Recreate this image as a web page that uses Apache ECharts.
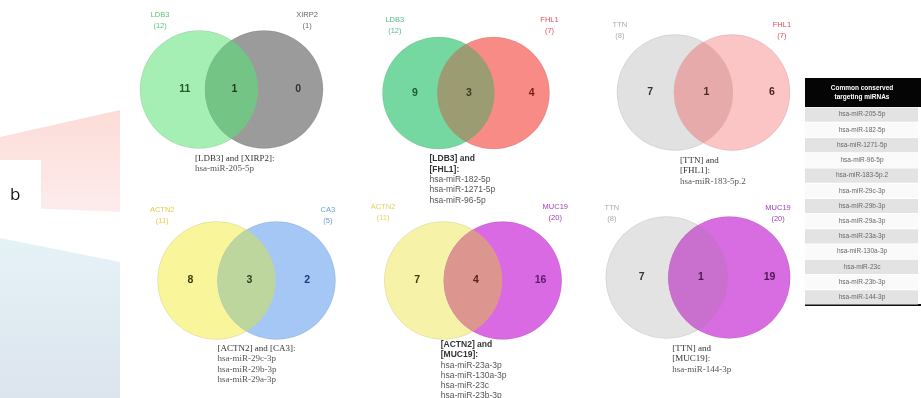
<!DOCTYPE html>
<html>
<head>
<meta charset="utf-8">
<script src="https://cdn.jsdelivr.net/npm/echarts@6/dist/echarts.min.js"></script>
<style>
  html, body { margin: 0; padding: 0; background: #fff; }
  #chart { width: 921px; height: 398px; }
</style>
</head>
<body>
<div id="chart"></div>
<script>
  // genes compared in each venn (left set / right set)
  const leftGenes = ['LDB3', 'LDB3', 'TTN', 'ACTN2', 'ACTN2', 'TTN']
  const rightGenes = ['XIRP2', 'FHL1', 'FHL1', 'CA3', 'MUC19', 'MUC19']
  // number of miRNAs in each region
  const leftOnly = [11, 9, 7, 8, 7, 7]
  const shared = [1, 3, 1, 3, 4, 1]
  const rightOnly = [0, 4, 6, 2, 16, 19]
  // shared miRNAs written under each venn
  const sharedMirnas = [
    ['hsa-miR-205-5p'],
    ['hsa-miR-182-5p', 'hsa-miR-1271-5p', 'hsa-miR-96-5p'],
    ['hsa-miR-183-5p.2'],
    ['hsa-miR-29c-3p', 'hsa-miR-29b-3p', 'hsa-miR-29a-3p'],
    ['hsa-miR-23a-3p', 'hsa-miR-130a-3p', 'hsa-miR-23c', 'hsa-miR-23b-3p'],
    ['hsa-miR-144-3p']
  ]
  const tableTitle = 'Common conserved\ntargeting miRNAs'
  const tableRows = sharedMirnas.flat()

  // layout: centre of the pair, radius, centre distance (px); label offsets in radius units
  const panels = [
    {x: 231.5, y: 89.5, r: 59, d: 65, nameL: -0.66, nameR: 0.73, nameDy: 2, numL: -0.24, numR: 0.58, capDx: -10, capDy: 0, wrap: false, sans: false},
    {x: 466, y: 93, r: 56, d: 55, nameL: -0.78, nameR: 1.0, nameDy: 0, numL: -0.42, numR: 0.68, capDx: -8, capDy: 0, wrap: true, sans: true},
    {x: 703.5, y: 92.5, r: 58, d: 57, nameL: -0.95, nameR: 0.86, nameDy: 8, numL: -0.43, numR: 0.69, capDx: 6, capDy: 0, wrap: true, sans: false},
    {x: 246.5, y: 280.5, r: 59, d: 60, nameL: -0.92, nameR: 0.87, nameDy: 6, numL: -0.44, numR: 0.52, capDx: 0, capDy: -1, wrap: false, sans: false},
    {x: 473, y: 280.5, r: 59, d: 59.5, nameL: -1.02, nameR: 0.89, nameDy: 3, numL: -0.44, numR: 0.64, capDx: -3, capDy: -5, wrap: true, sans: true},
    {x: 698, y: 277.5, r: 61, d: 62.5, nameL: -0.9, nameR: 0.8, nameDy: 9, numL: -0.41, numR: 0.66, capDx: 4, capDy: 0, wrap: true, sans: false}
  ]
  // fills: left, right, overlap
  const fills = [
    ['#a6efb4', '#9b9b9b', '#74c485'],
    ['#74d8a0', '#f88b86', '#9c9c72'],
    ['#e1e1e1', '#fbc5c5', '#e6aaaa'],
    ['#f8f59b', '#a4c7f5', '#bdd69d'],
    ['#f6f3a8', '#d96ae3', '#dc958f'],
    ['#e3e3e3', '#d86ce1', '#c96fcd']
  ]
  const nameColors = [
    ['#5fc27a', '#666666'],
    ['#4fbf86', '#e5505a'],
    ['#aaaaaa', '#e04a5a'],
    ['#e6c94a', '#6a9fd8'],
    ['#e6d060', '#a040b8'],
    ['#aaaaaa', '#a040b8']
  ]
  const numColors = [
    ['#1f5a2c', '#1f3d22', '#333333'],
    ['#1d5a3a', '#3a3a20', '#7a1a1a'],
    ['#333333', '#4a2a2a', '#4a1f1f'],
    ['#3a3a10', '#2c3d1c', '#1c3a7a'],
    ['#3a3a10', '#5a2020', '#5a1a6a'],
    ['#333333', '#4a1a4a', '#4a1a4a']
  ]

  function lensPoints(cx1, cx2, cy, R) {
    const a = (cx2 - cx1) / 2
    const t = Math.acos(a / R)
    const pts = []
    const n = 40
    // right arc of left circle (top -> bottom)
    for (let k = 0; k <= n; k++) {
      const ang = -t + 2 * t * k / n
      pts.push([cx1 + R * Math.cos(ang), cy + R * Math.sin(ang)])
    }
    // left arc of right circle (bottom -> top)
    for (let k = 0; k <= n; k++) {
      const ang = Math.PI - t + 2 * t * k / n
      pts.push([cx2 + R * Math.cos(ang), cy + R * Math.sin(ang)])
    }
    return pts
  }

  function renderVenn(i) {
    return function (params, api) {
      const p = panels[i]
      const h = p.d / 2 / p.r
      const cL = api.coord([-h, 0])
      const cR = api.coord([h, 0])
      const R = api.size([1, 0])[0]
      const cy = cL[1]
      const numFont = 'bold 10.5px "Liberation Sans", Arial, sans-serif'
      const nameFont = '7.5px "Liberation Sans", Arial, sans-serif'
      const capFont = p.sans ? '8.5px "Liberation Sans", Arial, sans-serif' : '9px "Liberation Serif", "Times New Roman", serif'
      const capHeadFont = p.sans ? 'bold 8.5px "Liberation Sans", Arial, sans-serif' : '9px "Liberation Serif", "Times New Roman", serif'
      const head = p.wrap
        ? '[' + leftGenes[i] + '] and\n[' + rightGenes[i] + ']:'
        : '[' + leftGenes[i] + '] and [' + rightGenes[i] + ']:'
      const headLines = p.wrap ? 2 : 1
      const capX = cR[0] - R + p.capDx
      const capY = cy + R + 5 + p.capDy
      const lh = 10.3
      const nameY = cy - R - 1 + p.nameDy
      return {
        type: 'group',
        children: [
          {type: 'circle', shape: {cx: cL[0], cy: cy, r: R}, style: {fill: fills[i][0], stroke: 'rgba(0,0,0,0.08)', lineWidth: 1}},
          {type: 'circle', shape: {cx: cR[0], cy: cy, r: R}, style: {fill: fills[i][1], stroke: 'rgba(0,0,0,0.08)', lineWidth: 1}},
          {type: 'polygon', shape: {points: lensPoints(cL[0], cR[0], cy, R)}, style: {fill: fills[i][2]}},
          {type: 'text', x: cL[0] + p.numL * R, y: cy, style: {text: String(leftOnly[i]), font: numFont, fill: numColors[i][0], align: 'center', verticalAlign: 'middle'}},
          {type: 'text', x: (cL[0] + cR[0]) / 2 + 3, y: cy, style: {text: String(shared[i]), font: numFont, fill: numColors[i][1], align: 'center', verticalAlign: 'middle'}},
          {type: 'text', x: cR[0] + p.numR * R, y: cy, style: {text: String(rightOnly[i]), font: numFont, fill: numColors[i][2], align: 'center', verticalAlign: 'middle'}},
          {type: 'text', x: cL[0] + p.nameL * R, y: nameY, style: {text: leftGenes[i] + '\n(' + (leftOnly[i] + shared[i]) + ')', font: nameFont, lineHeight: 11, fill: nameColors[i][0], align: 'center', verticalAlign: 'bottom'}},
          {type: 'text', x: cR[0] + p.nameR * R, y: nameY, style: {text: rightGenes[i] + '\n(' + (rightOnly[i] + shared[i]) + ')', font: nameFont, lineHeight: 11, fill: nameColors[i][1], align: 'center', verticalAlign: 'bottom'}},
          {type: 'text', x: capX, y: capY, style: {text: head, font: capHeadFont, lineHeight: lh, fill: '#333', align: 'left', verticalAlign: 'top'}},
          {type: 'text', x: capX, y: capY + headLines * lh, style: {text: sharedMirnas[i].join('\n'), font: capFont, lineHeight: lh, fill: '#555', align: 'left', verticalAlign: 'top'}}
        ]
      }
    }
  }

  function renderRow(params, api) {
    const idx = api.value(1)
    const c = api.coord([0.5, idx])
    const sz = api.size([1, 1])
    return {
      type: 'group',
      children: [
        {type: 'rect', shape: {x: c[0] - sz[0] / 2, y: c[1] - sz[1] / 2 + 0.5, width: sz[0] - 3, height: sz[1] - 1}, style: {fill: idx % 2 === 0 ? '#e3e3e3' : '#fafafa'}},
        {type: 'text', x: c[0] - 1, y: c[1], style: {text: tableRows[idx], font: '6.5px "Liberation Sans", Arial, sans-serif', fill: '#666', align: 'center', verticalAlign: 'middle'}}
      ]
    }
  }

  const grids = panels.map(p => ({left: p.x - 2 * p.r, top: p.y - 1.3 * p.r, width: 4 * p.r, height: 2.6 * p.r, containLabel: false}))
  grids.push({left: 805, top: 107, width: 116, height: 198, containLabel: false})

  const xAxes = panels.map((p, i) => ({type: 'value', gridIndex: i, min: -2, max: 2, show: false}))
  xAxes.push({type: 'value', gridIndex: 6, min: 0, max: 1, show: false})
  const yAxes = panels.map((p, i) => ({type: 'value', gridIndex: i, min: -1.3, max: 1.3, show: false}))
  yAxes.push({type: 'category', gridIndex: 6, data: tableRows, inverse: true, show: false})

  const series = panels.map((p, i) => ({
    type: 'custom',
    xAxisIndex: i,
    yAxisIndex: i,
    renderItem: renderVenn(i),
    data: [[0, 0]],
    silent: true
  }))
  series.push({
    type: 'custom',
    xAxisIndex: 6,
    yAxisIndex: 6,
    renderItem: renderRow,
    data: tableRows.map((t, i) => [0.5, i]),
    silent: true
  })

  const chart = echarts.init(document.getElementById('chart'))
  chart.setOption({
    animation: false,
    backgroundColor: '#fff',
    grid: grids,
    xAxis: xAxes,
    yAxis: yAxes,
    graphic: [
      // pale background shapes at the left edge
      {type: 'polygon', z: -10, shape: {points: [[0, 137], [120, 110], [120, 212], [0, 207]]},
        style: {fill: new echarts.graphic.LinearGradient(0, 0, 0, 1, [{offset: 0, color: '#fcdcd7'}, {offset: 1, color: '#fdeced'}])}},
      {type: 'polygon', z: -10, shape: {points: [[0, 238], [120, 262], [120, 398], [0, 398]]},
        style: {fill: new echarts.graphic.LinearGradient(0, 0, 0, 1, [{offset: 0, color: '#e5f2f6'}, {offset: 1, color: '#dce4ee'}])}},
      {type: 'rect', z: -9, shape: {x: 0, y: 160, width: 41, height: 50}, style: {fill: '#ffffff'}},
      {type: 'text', x: 10, y: 195, style: {text: 'b', font: '17px "Open Sans", "Liberation Sans", sans-serif', fill: '#111', verticalAlign: 'middle'}},
      // table header and bottom rule
      {type: 'rect', shape: {x: 805, y: 78, width: 116, height: 29}, style: {fill: '#050505'}},
      {type: 'text', x: 862, y: 92.5, style: {text: tableTitle, font: 'bold 6.5px "Liberation Sans", Arial, sans-serif', lineHeight: 9, fill: '#fff', align: 'center', verticalAlign: 'middle'}},
      {type: 'line', shape: {x1: 805, y1: 305, x2: 921, y2: 305}, style: {stroke: '#111', lineWidth: 2}}
    ],
    series: series
  })
</script>
</body>
</html>
